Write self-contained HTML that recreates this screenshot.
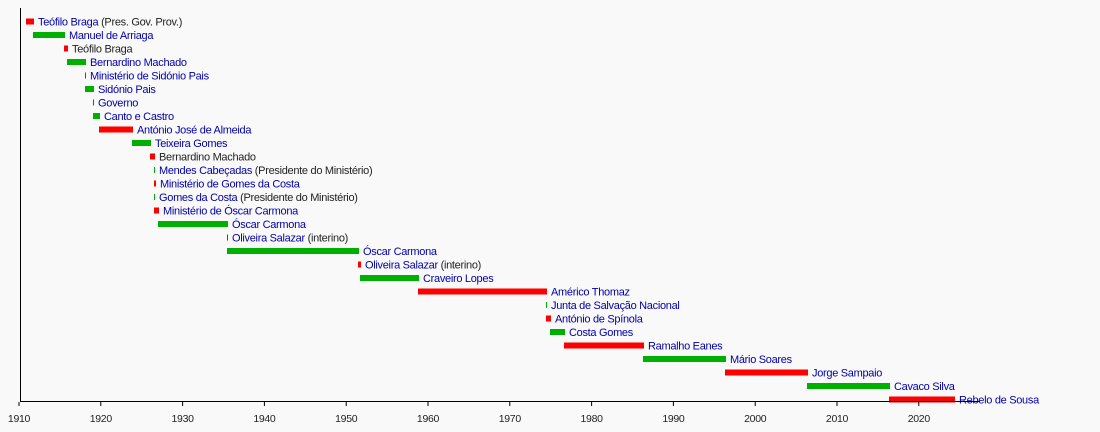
<!DOCTYPE html>
<html><head><meta charset="utf-8"><style>
html,body{margin:0;padding:0;background:#f9f9f9;}
svg{display:block;}
text{font-family:"Liberation Sans",sans-serif;font-size:11px;letter-spacing:-0.3px;}
.l{fill:#0000aa;} .b{fill:#222;}
</style></head><body>
<svg width="1100" height="432" viewBox="0 0 1100 432">
<rect width="1100" height="432" fill="#f9f9f9"/>
<g id="bars"></g>
<line x1="20.5" y1="8" x2="20.5" y2="402" stroke="#000" stroke-width="1"/>
<line x1="20" y1="401.5" x2="980" y2="401.5" stroke="#000" stroke-width="1"/>
<g id="ax"></g>
</svg>
<script>
var rows=[
[26,34,'r','Teófilo Braga',' (Pres. Gov. Prov.)'],
[33,65,'g','Manuel de Arriaga'],
[64,68,'r','','Teófilo Braga'],
[67,86,'g','Bernardino Machado'],
[85,86,'r','Ministério de Sidónio Pais'],
[85,94,'g','Sidónio Pais'],
[93,94,'r','Governo'],
[93,100,'g','Canto e Castro'],
[99,133,'r','António José de Almeida'],
[132,151,'g','Teixeira Gomes'],
[150,155,'r','','Bernardino Machado'],
[154,155,'g','Mendes Cabeçadas',' (Presidente do Ministério)'],
[154,156,'r','Ministério de Gomes da Costa'],
[154,155,'g','Gomes da Costa',' (Presidente do Ministério)'],
[154,159,'r','Ministério de Óscar Carmona'],
[158,228,'g','Óscar Carmona'],
[227,228,'r','Oliveira Salazar',' (interino)'],
[227,359,'g','Óscar Carmona'],
[358,361,'r','Oliveira Salazar',' (interino)'],
[360,419,'g','Craveiro Lopes'],
[418,547,'r','Américo Thomaz'],
[546,547,'g','Junta de Salvação Nacional'],
[546,551,'r','António de Spínola'],
[550,565,'g','Costa Gomes'],
[564,644,'r','Ramalho Eanes'],
[643,726,'g','Mário Soares'],
[725,808,'r','Jorge Sampaio'],
[807,890,'g','Cavaco Silva'],
[889,955,'r','Rebelo de Sousa']];
var ns='http://www.w3.org/2000/svg',g=document.getElementById('bars'),h='';
rows.forEach(function(r,i){
 var cy=21.5+i*13.5;
 h+='<rect x="'+r[0]+'" y="'+(cy-3)+'" width="'+Math.max(1,r[1]-r[0])+'" height="6" fill="'+(r[2]=='r'?'#ff0000':'#00b000')+'"/>';
 var t='<text x="'+(r[1]+4)+'" y="'+(cy+4)+'">';
 if(r[3]) t+='<tspan class="l">'+r[3]+'</tspan>';
 if(r[4]) t+='<tspan class="b">'+r[4]+'</tspan>';
 h+=t+'</text>';
});
g.innerHTML=h;
var a='';
for(var y=1910;y<=2020;y+=10){var x=19+(y-1910)*8.18;
 a+='<line x1="'+x+'" y1="402" x2="'+x+'" y2="406" stroke="#000"/>';
 a+='<text x="'+x+'" y="422" text-anchor="middle" class="b" style="font-size:10.5px">'+y+'</text>';}
document.getElementById('ax').innerHTML=a;
</script>
</body></html>
